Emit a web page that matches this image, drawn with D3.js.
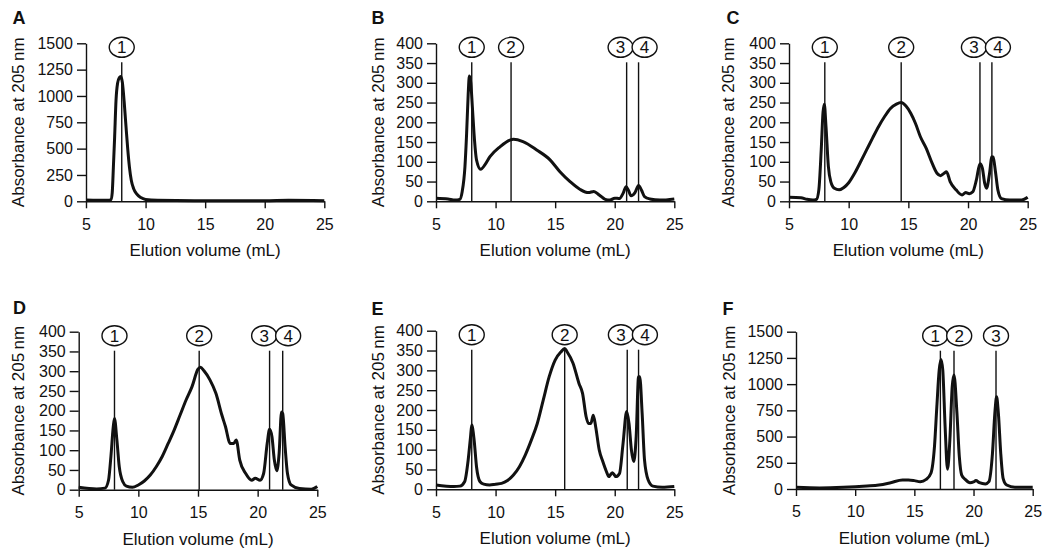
<!DOCTYPE html>
<html><head><meta charset="utf-8">
<script src="https://cdn.jsdelivr.net/npm/d3@7/dist/d3.min.js"></script>
<style>
html,body{margin:0;padding:0;background:#fff;}
svg{display:block;font-family:"Liberation Sans",Arial,sans-serif;}
</style></head>
<body><svg id="chart" width="1050" height="557"></svg>
<script>
// ---- data ----
const volA = [5, 6, 6.9, 7.1, 7.2, 7.3, 7.4, 7.52, 7.65, 7.8, 7.92, 8.05, 8.2, 8.35, 8.5, 8.65, 8.8, 9.0, 9.25, 9.6, 10.0, 11, 15, 20, 22, 25];
const absA = [12, 10, 10, 18, 80, 330, 600, 960, 1120, 1175, 1185, 1130, 950, 720, 500, 320, 200, 120, 70, 35, 18, 10, 6, 6, 10, 6];
const peaksA = [8.0];

const volB = [5, 6, 6.6, 7.0, 7.2, 7.43, 7.57, 7.7, 7.8, 7.92, 8.05, 8.19, 8.4, 8.75, 9.1, 9.53, 10.37, 11.2, 11.5, 12.3, 13.45, 14.57, 15.4, 16.25, 17.1, 17.8, 18.25, 18.7, 19.2, 19.6, 20.0, 20.4, 20.7, 20.95, 21.15, 21.37, 21.7, 22.0, 22.25, 22.5, 22.95, 23.8, 25];
const absB = [8, 6, 3, 5, 25, 88, 172, 270, 317, 300, 240, 172, 105, 81, 92, 113, 138, 155, 157, 151, 130, 105, 75, 50, 30, 22, 25, 16, 5, 3, 8, 7, 20, 37, 28, 14, 22, 40, 28, 12, 6, 3, 6];
const peaksB = [8.0, 11.3, 21.0, 22.0];

const volC = [5, 6, 6.5, 7.0, 7.3, 7.5, 7.7, 7.85, 7.96, 8.1, 8.3, 8.5, 8.8, 9.2, 9.6, 10, 10.5, 11, 11.5, 12, 12.5, 13, 13.5, 14, 14.4, 14.8, 15.2, 15.6, 16, 16.5, 17, 17.4, 17.7, 18.0, 18.2, 18.5, 19.0, 19.5, 19.8, 20.1, 20.4, 20.7, 21.0, 21.2, 21.4, 21.55, 21.8, 22.0, 22.1, 22.3, 22.5, 22.8, 23.5, 24.5, 25];
const absC = [10, 9, 5, 3, 5, 29, 130, 225, 246, 189, 88, 50, 33, 29, 35, 47, 71, 100, 130, 160, 189, 214, 235, 246, 250, 241, 223, 197, 164, 134, 96, 71, 65, 71, 75, 50, 29, 16, 22, 19, 24, 54, 95, 84, 45, 33, 70, 113, 112, 75, 29, 7, 3, 3, 10];
const peaksC = [8.0, 14.4, 21.0, 22.0];

const volD = [5, 6.5, 7.2, 7.5, 7.7, 7.9, 8.0, 8.2, 8.4, 8.7, 9.0, 9.5, 10, 10.5, 11, 11.5, 12, 12.5, 13, 13.5, 14, 14.5, 15, 15.2, 15.5, 16, 16.5, 17, 17.3, 17.7, 18.0, 18.2, 18.5, 19.0, 19.5, 19.8, 20.2, 20.5, 20.8, 21.0, 21.2, 21.4, 21.6, 21.8, 22.0, 22.1, 22.3, 22.5, 22.8, 23.5, 24.5, 25];
const absD = [6, 2, 4, 24, 84, 160, 180, 126, 58, 20, 9, 6, 12, 22, 37, 58, 84, 117, 151, 189, 227, 261, 305, 310, 301, 278, 244, 189, 160, 117, 117, 126, 75, 41, 24, 29, 24, 41, 117, 153, 134, 75, 48, 92, 197, 193, 109, 41, 12, 3, 1, 8];
const peaksD = [8.0, 15.1, 21.0, 22.1];

const volE = [5, 6.5, 7, 7.4, 7.7, 7.9, 8.0, 8.2, 8.4, 8.7, 9.0, 9.5, 10, 10.5, 11, 11.5, 12, 12.5, 13, 13.5, 14, 14.5, 15, 15.5, 15.8, 16.0, 16.5, 17, 17.3, 17.6, 17.8, 18.0, 18.2, 18.4, 18.7, 19.0, 19.3, 19.5, 19.8, 20.1, 20.4, 20.7, 21.0, 21.2, 21.4, 21.6, 21.8, 22.0, 22.1, 22.3, 22.5, 22.8, 23.2, 24, 25];
const absE = [11, 7, 8, 19, 74, 133, 162, 124, 57, 19, 13, 11, 13, 15, 22, 36, 57, 87, 124, 166, 225, 284, 326, 347, 355, 347, 318, 267, 242, 183, 166, 166, 187, 158, 99, 70, 45, 32, 42, 32, 40, 116, 196, 166, 99, 70, 133, 284, 284, 192, 74, 24, 8, 5, 7];
const peaksE = [8.0, 15.8, 21.05, 22.0];

const volF = [5, 7, 9, 10, 11, 12, 13, 14, 14.5, 15, 15.5, 16, 16.4, 16.7, 16.9, 17.1, 17.25, 17.4, 17.6, 17.8, 18.0, 18.2, 18.35, 18.6, 18.8, 19.0, 19.3, 19.7, 20.0, 20.2, 20.5, 21.0, 21.3, 21.6, 21.8, 21.95, 22.1, 22.3, 22.5, 22.8, 23.5, 25];
const absF = [16, 10, 16, 22, 29, 38, 60, 86, 86, 80, 70, 92, 150, 404, 785, 1135, 1236, 1135, 594, 188, 467, 976, 1087, 721, 308, 133, 92, 60, 67, 80, 60, 48, 70, 340, 721, 880, 721, 340, 102, 38, 16, 16];
const peaksF = [17.2, 18.35, 21.9];

const xTicks = [5, 10, 15, 20, 25];
const yTicksHigh = [0, 250, 500, 750, 1000, 1250, 1500];
const yTicksLow = [0, 50, 100, 150, 200, 250, 300, 350, 400];
const xTitle = "Elution volume (mL)";
const yTitle = "Absorbance at 205\u2009nm";

// ---- layout ----
const panels = [
  {id:"A", vol:volA, abs:absA, peaks:peaksA, yTicks:yTicksHigh, l:86,  r:324.3, t:43.3,  b:201.3, tx:23.5,  lx:12.5,  ly:24},
  {id:"B", vol:volB, abs:absB, peaks:peaksB, yTicks:yTicksLow,  l:436, r:674.3, t:43.3,  b:201.3, tx:383.5, lx:371.5, ly:24},
  {id:"C", vol:volC, abs:absC, peaks:peaksC, yTicks:yTicksLow,  l:789, r:1027.7,t:43.3,  b:201.3, tx:733.5, lx:726.5, ly:24},
  {id:"D", vol:volD, abs:absD, peaks:peaksD, yTicks:yTicksLow,  l:78.7,r:317.3, t:331.7, b:489.7, tx:23.5,  lx:13,    ly:314},
  {id:"E", vol:volE, abs:absE, peaks:peaksE, yTicks:yTicksLow,  l:436, r:674.3, t:330.7, b:489.3, tx:383.5, lx:371.5, ly:314.5},
  {id:"F", vol:volF, abs:absF, peaks:peaksF, yTicks:yTicksHigh, l:796, r:1032.7,t:331.7, b:489,   tx:735,   lx:722.5, ly:314.5}
];

const svg = d3.select("#chart");
const ink = "#111";
const rx = 12.5, ry = 10;

panels.forEach(p => {
  const x = d3.scaleLinear().domain([5, 25]).range([p.l, p.r]);
  const yMax = p.yTicks[p.yTicks.length - 1];
  const y = d3.scaleLinear().domain([0, yMax]).range([p.b, p.t]);
  const g = svg.append("g");

  // axes
  const ya = g.append("g").attr("transform", `translate(${p.l},0)`)
    .call(d3.axisLeft(y).tickValues(p.yTicks).tickSize(9).tickSizeOuter(0).tickPadding(4).tickFormat(d3.format("d")));
  const xa = g.append("g").attr("transform", `translate(0,${p.b})`)
    .call(d3.axisBottom(x).tickValues(xTicks).tickSize(7).tickSizeOuter(0).tickPadding(10).tickFormat(d3.format("d")));
  [ya, xa].forEach(a => {
    a.select(".domain").attr("stroke", ink).attr("stroke-width", 1.4);
    a.selectAll(".tick line").attr("stroke", ink).attr("stroke-width", 1.4);
    a.selectAll(".tick text").attr("fill", ink).style("font-size", "16px")
      .style("font-family", "'Liberation Sans', Arial, sans-serif");
  });

  // axis titles
  g.append("text").attr("x", (p.l + p.r) / 2).attr("y", p.b + 55)
    .attr("text-anchor", "middle").attr("fill", ink).style("font-size", "17px").text(xTitle);
  g.append("text").attr("transform", `translate(${p.tx},${(p.t + p.b) / 2}) rotate(-90)`)
    .attr("text-anchor", "middle").attr("fill", ink).style("font-size", "17px").text(yTitle);

  // panel letter
  g.append("text").attr("x", p.lx).attr("y", p.ly).attr("fill", ink)
    .style("font-size", "18px").style("font-weight", "bold").text(p.id);

  // trace
  const pts = p.vol.map((v, i) => [v, p.abs[i]]);
  const line = d3.line().x(d => x(d[0])).y(d => y(d[1])).curve(d3.curveMonotoneX);
  g.append("path").datum(pts).attr("d", line).attr("fill", "none")
    .attr("stroke", ink).attr("stroke-width", 3).attr("stroke-linejoin", "round");

  // peak markers
  const cy = p.t + 4;
  g.selectAll(".mk").data(p.peaks).enter().append("line")
    .attr("x1", d => x(d)).attr("x2", d => x(d))
    .attr("y1", p.t + 19).attr("y2", p.b)
    .attr("stroke", ink).attr("stroke-width", 1.4);

  // label positions: centered on marker, pushed apart when they collide
  const cx = p.peaks.map(d => x(d));
  const minSep = 2 * rx - 1;
  for (let i = 0; i < cx.length - 1; i++) {
    const gap = cx[i + 1] - cx[i];
    if (gap < minSep) {
      const push = (minSep - gap) / 2;
      cx[i] -= push; cx[i + 1] += push;
    }
  }
  p.peaks.forEach((d, i) => {
    g.append("ellipse").attr("cx", cx[i]).attr("cy", cy).attr("rx", rx).attr("ry", ry)
      .attr("fill", "#fff").attr("stroke", ink).attr("stroke-width", 1.4);
    g.append("text").attr("x", cx[i]).attr("y", cy + 6).attr("text-anchor", "middle")
      .attr("fill", ink).style("font-size", "17px").text(i + 1);
  });
});
</script>
</body></html>
